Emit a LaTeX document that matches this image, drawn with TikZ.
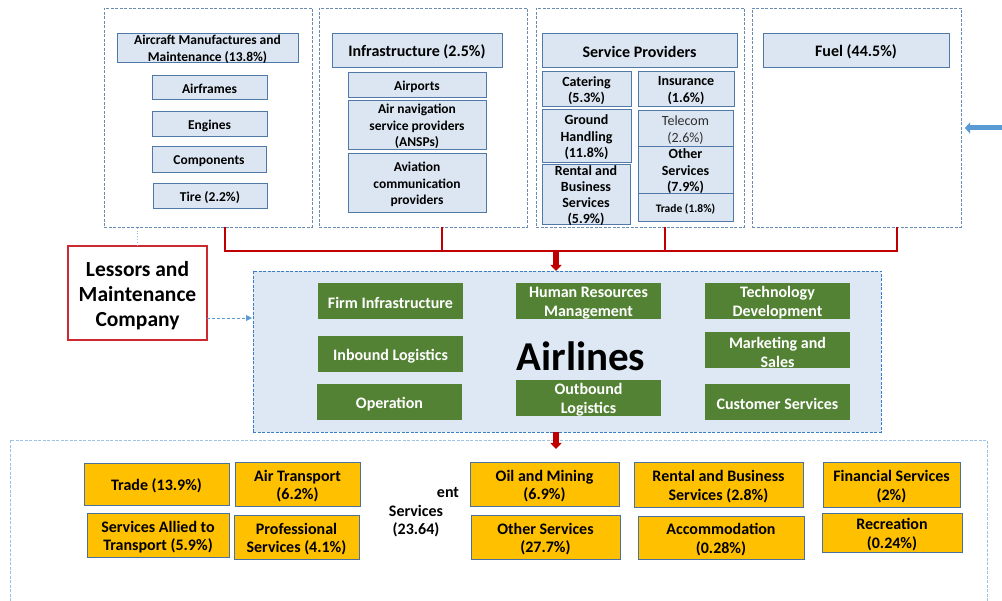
\documentclass[tikz,border=0pt]{standalone}
\usepackage{fontspec}
\setmainfont{Carlito}
\usetikzlibrary{arrows.meta}
\definecolor{panelc}{HTML}{6A8BB2}
\definecolor{lbfill}{HTML}{DCE6F2}
\definecolor{lbdraw}{HTML}{5079A8}
\definecolor{airfill}{HTML}{DEE8F5}
\definecolor{airdraw}{HTML}{3A7DC9}
\definecolor{grn}{HTML}{548235}
\definecolor{ylw}{HTML}{FFC000}
\definecolor{ylwdraw}{HTML}{4A70A0}
\definecolor{redc}{HTML}{C00000}
\definecolor{lesc}{HTML}{CC2A30}
\definecolor{lblue}{HTML}{9DC3E6}
\definecolor{mblue}{HTML}{5B9BD5}
\definecolor{telc}{HTML}{2E2E2E}
% frame only
\newcommand\frameat[6][]{%
  \node[#1, minimum width={(#5-#3)*1pt}, minimum height={(#6-#4)*1pt}] (#2) at ({(#3+#5)/2},{(#4+#6)/2}) {};}
% frame plus text (text lowered slightly, as in the reference)
\newcommand\boxat[7][]{%
  \frameat[#1]{#2}{#3}{#4}{#5}{#6}%
  \node[#1, draw=none, fill=none, yshift=-2pt] (#2t) at (#2.center) {#7};}
\begin{document}
\begin{tikzpicture}[x=1pt,y=-1pt,
  every node/.style={inner sep=0pt, outer sep=0pt, align=center},
  panel/.style={draw=panelc, line width=0.8pt, dash pattern=on 3pt off 1.5pt},
  lbox/.style={draw=lbdraw, fill=lbfill, line width=0.9pt, font=\bfseries\fontsize{13.5}{16.5}\selectfont},
  lboxh/.style={lbox, font=\bfseries\fontsize{16}{18}\selectfont},
  lboxs/.style={lbox, font=\bfseries\fontsize{14}{16.5}\selectfont},
  gbox/.style={fill=grn, text=white, font=\bfseries\fontsize{16}{19}\selectfont},
  ybox/.style={draw=ylwdraw, fill=ylw, line width=0.9pt, font=\bfseries\fontsize{16}{18.5}\selectfont},
  ytext/.style={font=\bfseries\fontsize{16}{18.5}\selectfont},
  redline/.style={draw=redc, line width=1.8pt},
  redarrow/.style={draw=redc, line width=6pt, -{Triangle[width=11pt,length=6pt]}},
]
\useasboundingbox (0,0) rectangle (1002,601);

% top panels
\frameat[panel]{p1}{104}{8}{312}{227}
\frameat[panel]{p2}{319}{8}{527}{227}
\frameat[panel]{p3}{536}{8}{744}{227}
\frameat[panel]{p4}{752}{8}{961}{227}

% panel 1
\boxat[lbox]{a1}{117}{33}{298}{62}{Aircraft Manufactures and\\Maintenance (13.8\%)}
\boxat[lbox]{a2}{152}{75}{267}{99}{Airframes}
\boxat[lbox]{a3}{152}{111}{267}{136}{Engines}
\boxat[lbox]{a4}{152}{146}{266}{172}{Components}
\boxat[lbox]{a5}{153}{183}{267}{208}{Tire (2.2\%)}

% panel 2
\boxat[lboxh]{b1}{332}{33}{502}{67}{Infrastructure (2.5\%)}
\boxat[lbox]{b2}{348}{72}{486}{97}{Airports}
\boxat[lbox]{b3}{348}{100}{486}{149}{Air navigation\\service providers\\(ANSPs)}
\boxat[lbox]{b4}{348}{153}{486}{212}{Aviation\\communication\\providers}

% panel 3
\boxat[lboxh]{c1}{542}{33}{737}{67}{Service Providers}
\boxat[lboxs]{c2}{542}{71}{631}{106}{Catering\\(5.3\%)}
\boxat[lboxs]{c3}{638}{71}{734}{106}{Insurance\\(1.6\%)}
\boxat[lboxs]{c4}{542}{109}{631}{162}{Ground\\Handling\\(11.8\%)}
\boxat[lboxs, text=telc, font=\fontsize{14}{16.5}\selectfont]{c5}{638}{110}{733}{146}{Telecom\\(2.6\%)}
\boxat[lboxs, font=\bfseries\fontsize{14}{16}\selectfont]{c6}{542}{164}{630}{224}{Rental and\\Business\\Services\\(5.9\%)}
\boxat[lboxs]{c7}{638}{146}{733}{193}{Other\\Services\\(7.9\%)}
\boxat[lboxs, font=\bfseries\fontsize{11.5}{14}\selectfont]{c8}{638}{193}{733}{221}{Trade (1.8\%)}

% panel 4
\boxat[lboxh]{d1}{763}{33}{949}{67}{Fuel (44.5\%)}

% blue arrow at right
\coordinate (bstart) at (1004,128);
\draw[draw=mblue, line width=5pt, -{Triangle[width=11pt,length=5pt]}, shorten >=4pt] (bstart) -- (bstart -| p4.east);

% lessors
\frameat[draw=lesc, fill=white, line width=1.3pt]{les}{68}{246}{207}{340}
\node[font=\bfseries\fontsize{21.5}{25}\selectfont, yshift=-3pt] (lest) at (les.center) {Lessors and\\Maintenance\\Company};
\draw[draw=lblue!80!mblue, line width=0.9pt, dotted] (les.north) -- (les.north |- p1.south);

% airlines box
\frameat[draw=airdraw, fill=airfill, line width=0.9pt, dash pattern=on 3pt off 1.5pt]{air}{253}{271}{881}{432}
\draw[draw=mblue, line width=0.9pt, dash pattern=on 3pt off 2pt, -{Triangle[width=6pt,length=6pt]}, shorten >=1pt] ([yshift=-25pt]les.east) -- ([yshift=-25pt]les.east -| air.west);

\boxat[gbox]{g1}{318}{283}{463}{319}{Firm Infrastructure}
\boxat[gbox]{g2}{516}{283}{661}{319}{Human Resources\\Management}
\boxat[gbox]{g3}{705}{283}{850}{319}{Technology\\Development}
\boxat[gbox]{g4}{318}{336}{463}{372}{Inbound Logistics}
\boxat[gbox]{g5}{705}{332}{850}{368}{Marketing and\\Sales}
\boxat[gbox]{g6}{317}{384}{462}{420}{Operation}
\boxat[gbox]{g7}{516}{380}{661}{416}{Outbound\\Logistics}
\boxat[gbox]{g8}{705}{384}{850}{420}{Customer Services}
\node[font=\bfseries\fontsize{41}{45}\selectfont] (airt) at (581,356) {Airlines};

% red connectors
\coordinate (rl) at (225,251);
\coordinate (rm) at (442,251);
\coordinate (rs) at (665,251);
\coordinate (rr) at (897,251);
\coordinate (rc) at (556,251);
\draw[redline] (rl |- p1.south) -- (rl) -- (rr) -- (rr |- p4.south);
\draw[redline] (rm |- p2.south) -- (rm);
\draw[redline] (rs |- p3.south) -- (rs);
\draw[redarrow] (rc) -- (rc |- air.north);

% bottom region
\coordinate (bl) at (10,601);
\coordinate (btl) at (10,440);
\coordinate (btr) at (987,440);
\coordinate (br) at (987,601);
\draw[draw=lblue, line width=0.8pt, dash pattern=on 3pt off 1.5pt] (bl) -- (btl) -- (btr) -- (br);
\draw[redarrow] (rc |- air.south) -- ([yshift=-9pt]rc |- btl);

\boxat[ybox]{y1}{84}{463}{229}{505}{Trade (13.9\%)}
\boxat[ybox]{y2}{235}{462}{360}{506}{Air Transport\\(6.2\%)}
\boxat[ybox]{y3}{87}{513}{229}{557}{Services Allied to\\Transport (5.9\%)}
\boxat[ybox]{y4}{234}{515}{359}{559}{Professional\\Services (4.1\%)}
\node[ytext] (e1) at (448,493) {ent};
\node[ytext] (e2) at (416,521) {Services\\(23.64)};
\boxat[ybox]{y5}{470}{462}{619}{506}{Oil and Mining\\(6.9\%)}
\boxat[ybox]{y6}{634}{462}{803}{507}{Rental and Business\\Services (2.8\%)}
\boxat[ybox]{y7}{823}{462}{960}{507}{Financial Services\\(2\%)}
\boxat[ybox]{y8}{471}{515}{620}{559}{Other Services\\(27.7\%)}
\boxat[ybox]{y9}{638}{516}{804}{559}{Accommodation\\(0.28\%)}
\boxat[ybox]{y10}{822}{513}{962}{552}{Recreation\\(0.24\%)}
\end{tikzpicture}
\end{document}
